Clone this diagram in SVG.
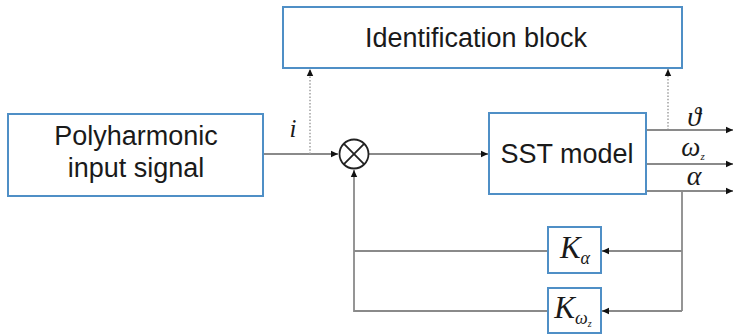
<svg xmlns="http://www.w3.org/2000/svg" width="733" height="335" viewBox="0 0 733 335">
<defs>
<marker id="ah" markerWidth="8" markerHeight="8" refX="7" refY="4" orient="auto" markerUnits="userSpaceOnUse">
<path d="M0,0.8 L7,4 L0,7.2 Z" fill="#111"/>
</marker>
<style>
.box{fill:#fff;stroke:#4f8fc6;stroke-width:2}
.ln{fill:none;stroke:#8a8a8a;stroke-width:1.8}
.dot{fill:none;stroke:#a0a0a0;stroke-width:1.5;stroke-dasharray:1.5 1.8}
.t{font-family:"Liberation Sans",Arial,sans-serif;font-size:27px;fill:#1a1a1a;text-anchor:middle}
.m{font-family:"Liberation Serif","Times New Roman",serif;font-style:italic;fill:#1a1a1a;text-anchor:middle}
</style>
</defs>
<g id="connectors">
<path class="ln" d="M264,154 H338" marker-end="url(#ah)"/>
<path class="ln" d="M369,154 H488" marker-end="url(#ah)"/>
<path class="dot" d="M310,154 V69" marker-end="url(#ah)"/>
<path class="dot" d="M668,130 V69" marker-end="url(#ah)"/>
<path class="ln" d="M646,130 H733" marker-end="url(#ah)"/>
<path class="ln" d="M646,164 H733" marker-end="url(#ah)"/>
<path class="ln" d="M646,191 H733" marker-end="url(#ah)"/>
<path class="ln" d="M682,191 V311"/>
<path class="ln" d="M682,251 H602" marker-end="url(#ah)"/>
<path class="ln" d="M682,311 H602" marker-end="url(#ah)"/>
<path class="ln" d="M548,251 H354"/>
<path class="ln" d="M548,311 H354 V170" marker-end="url(#ah)"/>
</g>
<g id="identification">
<rect class="box" x="283" y="7" width="399" height="61"/>
<text class="t" x="476" y="47">Identification block</text>
</g>
<g id="input">
<rect class="box" x="8" y="114" width="255" height="82"/>
<text class="t" x="136" y="145">Polyharmonic</text>
<text class="t" x="136" y="177">input signal</text>
</g>
<g id="sum">
<circle cx="354" cy="154" r="14.5" fill="#fff" stroke="#222" stroke-width="1.8"/>
<path d="M343.7,143.7 L364.3,164.3 M364.3,143.7 L343.7,164.3" stroke="#222" stroke-width="1.8"/>
</g>
<g id="sst">
<rect class="box" x="489" y="113" width="157" height="81"/>
<text class="t" x="567" y="163">SST model</text>
</g>
<g id="k-alpha">
<rect class="box" x="548" y="227" width="53" height="46"/>
<text class="m" x="575" y="258" font-size="31">K<tspan font-size="18" dy="6">α</tspan></text>
</g>
<g id="k-omega">
<rect class="box" x="548" y="288" width="53" height="45"/>
<text class="m" x="573" y="318" font-size="31">K<tspan font-size="18" dy="6">ω</tspan><tspan font-size="10" dy="3">z</tspan></text>
</g>
<g id="labels">
<text class="m" x="293" y="137" font-size="25">i</text>
<text class="m" x="694" y="126" font-size="28">ϑ</text>
<text class="m" x="693" y="156" font-size="27">ω<tspan font-size="11" dy="4">z</tspan></text>
<text class="m" x="694" y="185" font-size="28">α</text>
</g>
</svg>
